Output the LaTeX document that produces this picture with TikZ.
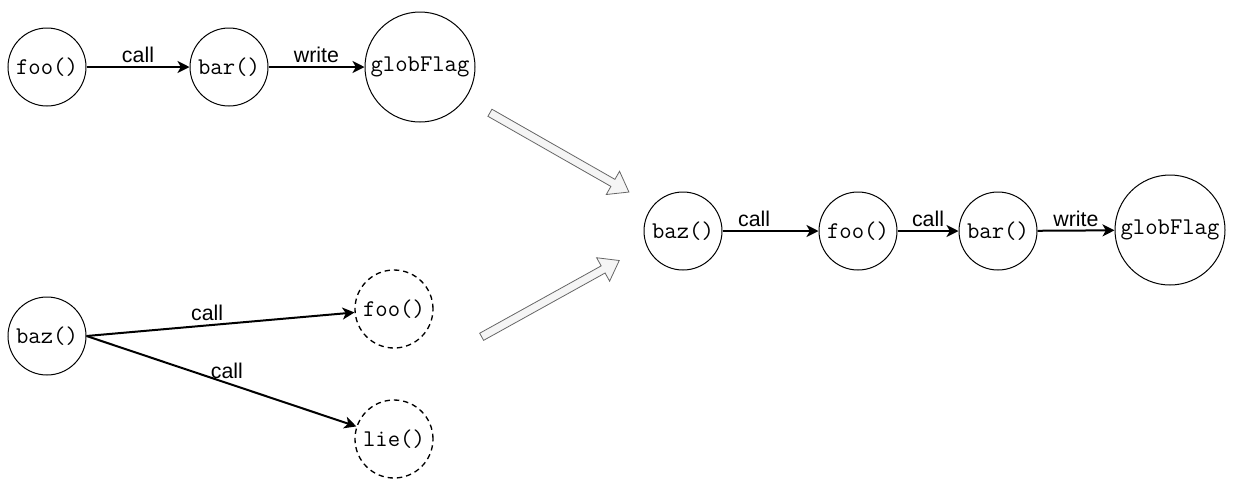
\documentclass[tikz,border=0pt]{standalone}
\usepackage{fontspec}
\setmainfont{Liberation Sans}
\usetikzlibrary{arrows.meta,shapes.arrows}

\tikzset{
  func/.style={circle, draw, line width=0.75pt, inner sep=0pt, minimum size=58.5pt,
    font=\ttfamily\fontsize{18}{20}\selectfont},
  ghost/.style={func, dash pattern=on 4pt off 3pt, line width=1pt},
  flag/.style={func, minimum size=82.5pt},
  link/.style={line width=1.5pt, -{Stealth[length=9pt,width=9pt,inset=2.5pt]}},
  lbl/.style={font=\fontsize{16}{18}\selectfont, inner sep=2.5pt},
  bigarrow/.style={single arrow, draw=black!60, fill=black!4, line width=0.6pt,
    inner xsep=0pt, inner ysep=2.75pt, single arrow head extend=7pt,
    single arrow tip angle=72, single arrow head indent=0pt}
}

\begin{document}
\begin{tikzpicture}[x=0.75pt, y=-0.75pt]
\useasboundingbox (0,0) rectangle (1235,480);

% first trace: foo calls bar, bar writes the flag
\node[func] (foo) at (47,67) {foo()};
\node[func] (bar) at (229,67) {bar()};
\node[flag] (flag) at (420,67) {globFlag};
\draw[link] (foo) -- node[lbl, above] {call} (bar);
\draw[link] (bar) -- node[lbl, above] {write} (flag);

% second trace: baz may call foo or lie
\node[func] (baz) at (47,336) {baz()};
\node[func, ghost] (fooB) at (394,309) {foo()};
\node[func, ghost] (lie) at (394,439) {lie()};
\draw[link] (baz.east) -- node[lbl, above, pos=0.45] {call} (fooB);
\draw[link] (baz.east) -- node[lbl, above, pos=0.52] {call} (lie);

% both traces merge
\node[bigarrow, rotate=-29.7, minimum height=120pt] (mergeA) at (557,151) {};
\node[bigarrow, rotate=29, minimum height=118pt] (mergeB) at (548,300) {};

% merged trace
\node[func] (bazM) at (683,231) {baz()};
\node[func] (fooM) at (858,231) {foo()};
\node[func] (barM) at (998,231) {bar()};
\node[flag] (flagM) at (1170,230) {globFlag};
\draw[link] (bazM) -- node[lbl, above, pos=0.33] {call} (fooM);
\draw[link] (fooM) -- node[lbl, above] {call} (barM);
\draw[link] (barM) -- node[lbl, above] {write} (flagM);
\end{tikzpicture}
\end{document}
